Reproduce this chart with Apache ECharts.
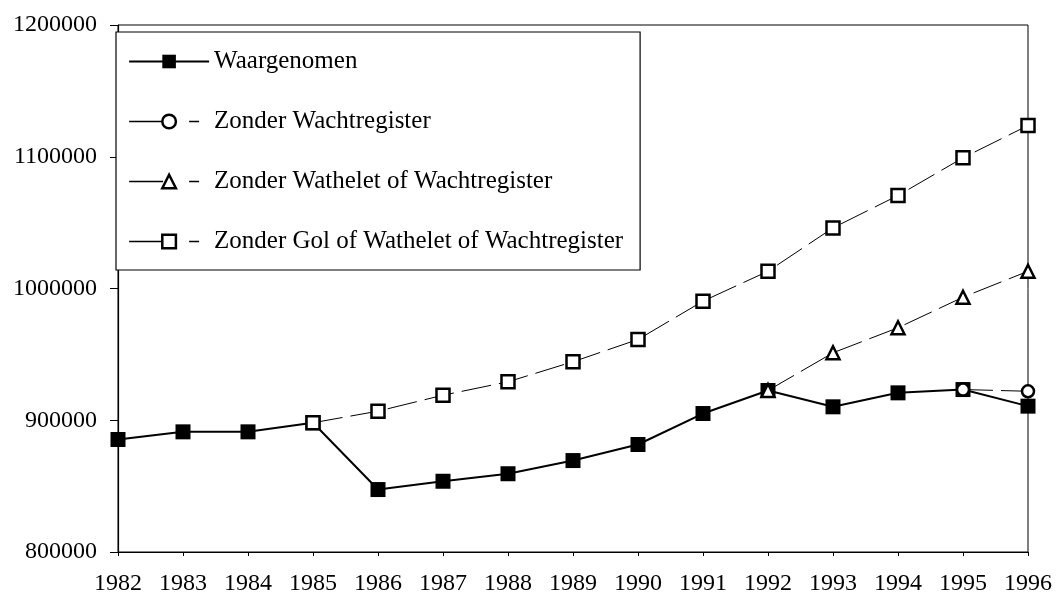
<!DOCTYPE html>
<html><head><meta charset="utf-8">
<script src="https://cdn.jsdelivr.net/npm/echarts@6/dist/echarts.min.js"></script>
<style>html,body{margin:0;padding:0;background:#fff}#c{width:1057px;height:601px}</style>
</head><body><div id="c"></div>
<script>
const years = ['1982','1983','1984','1985','1986','1987','1988','1989','1990','1991','1992','1993','1994','1995','1996'];
const waargenomen = [885400, 891200, 891200, 898100, 847400, 853700, 859400, 869400, 881600, 905100, 922600, 910200, 920800, 923300, 910700];
const zonderWachtregister = [null, null, null, null, null, null, null, null, null, null, null, null, null, 923300, 922000];
const zonderWathelet = [null, null, null, null, null, null, null, null, null, null, 922600, 951200, 970200, 993400, 1013100];
const zonderGol = [null, null, null, 898100, 906900, 919000, 929200, 944400, 961300, 990400, 1013100, 1046000, 1070600, 1099200, 1123700];
const seriesNames = ['Waargenomen', 'Zonder Wachtregister', 'Zonder Wathelet of Wachtregister', 'Zonder Gol of Wathelet of Wachtregister'];

const font = 'Liberation Serif';
const chart = echarts.init(document.getElementById('c'), null, {renderer: 'canvas'});
const dashed = {color: '#000', width: 1, type: [30, 8]};
const hollow = {color: '#fff', borderColor: '#000', borderWidth: 2.5};
const legendDash = {color: '#000', width: 1.3, type: [34, 26, 10, 20]};
const legendHollow = {color: '#fff', borderColor: '#000', borderWidth: 2.5};
chart.setOption({
  animation: false,
  backgroundColor: '#fff',
  grid: {left: 118, right: 29, top: 25, bottom: 49, show: true, borderColor: '#000', borderWidth: 1},
  legend: {
    orient: 'vertical', left: 116, top: 32,
    padding: [17, 6, 16, 12], itemGap: 35,
    itemWidth: 80, itemHeight: 17,
    backgroundColor: '#fff', borderColor: '#000', borderWidth: 1.2,
    data: [
      {name: seriesNames[0], lineStyle: {color: '#000', width: 2.2, type: 'solid'}, itemStyle: {color: '#000'}},
      {name: seriesNames[1], lineStyle: legendDash, itemStyle: legendHollow},
      {name: seriesNames[2], lineStyle: legendDash, itemStyle: legendHollow},
      {name: seriesNames[3], lineStyle: legendDash, itemStyle: legendHollow}
    ],
    textStyle: {fontFamily: font, fontSize: 25, color: '#000', lineHeight: 25, width: 420}
  },
  xAxis: {
    type: 'category', data: years, boundaryGap: false,
    axisLine: {lineStyle: {color: '#000', width: 1.2}},
    axisTick: {show: true, length: 4, lineStyle: {color: '#000'}},
    axisLabel: {fontFamily: font, fontSize: 24, color: '#000', margin: 20},
    splitLine: {show: false}
  },
  yAxis: {
    type: 'value', min: 800000, max: 1200000, interval: 100000,
    axisLine: {show: true, lineStyle: {color: '#000', width: 1.2}},
    axisTick: {show: true, length: 8, lineStyle: {color: '#000'}},
    axisLabel: {fontFamily: font, fontSize: 24, color: '#000', margin: 21, formatter: v => String(v)},
    splitLine: {show: false}
  },
  series: [
    {name: seriesNames[0], type: 'line', data: waargenomen, symbol: 'rect', symbolSize: 15,
     lineStyle: {color: '#000', width: 2}, itemStyle: {color: '#000'}, z: 2},
    {name: seriesNames[1], type: 'line', data: zonderWachtregister, symbol: 'circle', symbolSize: 12,
     lineStyle: dashed, itemStyle: hollow, z: 5},
    {name: seriesNames[2], type: 'line', data: zonderWathelet, symbol: 'triangle', symbolSize: 13,
     lineStyle: dashed, itemStyle: hollow, z: 4},
    {name: seriesNames[3], type: 'line', data: zonderGol, symbol: 'rect', symbolSize: 13,
     lineStyle: dashed, itemStyle: hollow, z: 3}
  ]
});
</script></body></html>
